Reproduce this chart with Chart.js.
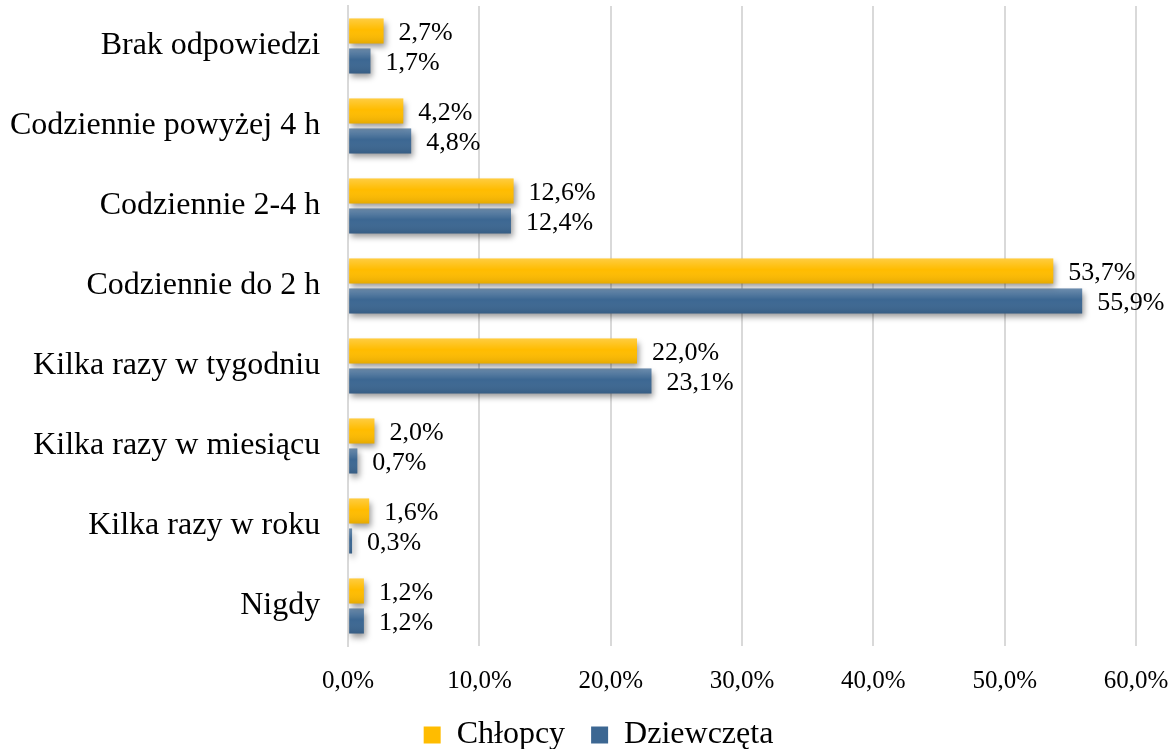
<!DOCTYPE html>
<html>
<head>
<meta charset="utf-8">
<script src="https://cdn.jsdelivr.net/npm/chart.js@4/dist/chart.umd.min.js"></script>
<style>
    html, body { margin: 0; padding: 0; background: #fff; }
    #wrap { width: 1175px; height: 749px; }
</style>
</head>
<body>
<div id="wrap"><canvas id="chart"></canvas></div>
<script>
// dane
const categories = [
    'Brak odpowiedzi',
    'Codziennie powyżej 4 h',
    'Codziennie 2-4 h',
    'Codziennie do 2 h',
    'Kilka razy w tygodniu',
    'Kilka razy w miesiącu',
    'Kilka razy w roku',
    'Nigdy'
];
const chlopcy = [2.7, 4.2, 12.6, 53.7, 22.0, 2.0, 1.6, 1.2];
const dziewczeta = [1.7, 4.8, 12.4, 55.9, 23.1, 0.7, 0.3, 1.2];
const seriesNames = ['Chłopcy', 'Dziewczęta'];
const xTicks = [0, 10, 20, 30, 40, 50, 60];

const FONT = "'Liberation Serif', 'Times New Roman', serif";
const fmt = (v) => v.toFixed(1).replace('.', ',') + '%';

// cień pod słupkami
const shadowPlugin = {
    id: 'barShadow',
    beforeDatasetsDraw(chart) {
        const ctx = chart.ctx;
        ctx.save();
        ctx.shadowColor = 'rgba(0, 0, 0, 0.4)';
        ctx.shadowBlur = 6;
        ctx.shadowOffsetX = 2;
        ctx.shadowOffsetY = 4;
    },
    afterDatasetsDraw(chart) {
        chart.ctx.restore();
    }
};

// gradient + etykiety danych
const labelPlugin = {
    id: 'barLabels',
    afterDatasetsDraw(chart) {
        const ctx = chart.ctx;
        ctx.save();
        chart.data.datasets.forEach((ds, i) => {
            const meta = chart.getDatasetMeta(i);
            meta.data.forEach((bar, j) => {
                const top = bar.y - bar.height / 2;
                const g = ctx.createLinearGradient(0, top, 0, top + bar.height);
                g.addColorStop(0, 'rgba(255,255,255,0.25)');
                g.addColorStop(0.45, 'rgba(255,255,255,0.0)');
                g.addColorStop(1, 'rgba(0,0,0,0.1)');
                ctx.fillStyle = g;
                ctx.fillRect(bar.base, top, bar.x - bar.base, bar.height);

                ctx.fillStyle = '#000';
                ctx.font = '26px ' + FONT;
                ctx.textBaseline = 'middle';
                ctx.textAlign = 'left';
                ctx.fillText(fmt(ds.data[j]), bar.x + 15, bar.y + 2);
            });
        });
        ctx.restore();
    }
};

// legenda trochę w prawo, jak w oryginale
const legendShift = {
    id: 'legendShift',
    afterLayout(chart) {
        if (chart.legend) chart.legend.left += 40;
    }
};

new Chart(document.getElementById('chart'), {
    type: 'bar',
    data: {
        labels: categories,
        datasets: [
            { label: seriesNames[0], data: chlopcy, backgroundColor: '#FFBC00' },
            { label: seriesNames[1], data: dziewczeta, backgroundColor: '#3C6792' }
        ]
    },
    options: {
        indexAxis: 'y',
        responsive: true,
        maintainAspectRatio: false,
        animation: false,
        layout: { padding: { top: 6, right: 0, left: -18, bottom: -12 } },
        datasets: {
            bar: { categoryPercentage: 0.75, barPercentage: 0.833, borderWidth: 0 }
        },
        scales: {
            x: {
                min: 0,
                max: 60,
                afterBuildTicks: (axis) => { axis.ticks = xTicks.map(v => ({ value: v })); },
                afterFit: (axis) => {
                    axis.paddingLeft = 0;
                    axis.paddingRight = 39;
                    axis.height -= 23;
                },
                grid: { color: '#d9d9d9', lineWidth: 2, drawTicks: false },
                border: { display: false },
                ticks: {
                    padding: 20,
                    color: '#000',
                    font: { family: FONT, size: 25 },
                    callback: (v) => fmt(v)
                }
            },
            y: {
                afterFit: (axis) => {
                    axis.paddingTop = 0;
                    axis.paddingBottom = 0;
                },
                grid: { display: false, drawTicks: false },
                border: { display: true, color: '#d9d9d9', width: 2 },
                ticks: {
                    padding: 28,
                    color: '#000',
                    font: { family: FONT, size: 32 }
                }
            }
        },
        plugins: {
            legend: {
                position: 'bottom',
                labels: {
                    boxWidth: 17,
                    boxHeight: 17,
                    padding: 26,
                    color: '#000',
                    font: { family: FONT, size: 32 }
                }
            },
            tooltip: { enabled: false }
        }
    },
    plugins: [shadowPlugin, labelPlugin, legendShift]
});
</script>
</body>
</html>
